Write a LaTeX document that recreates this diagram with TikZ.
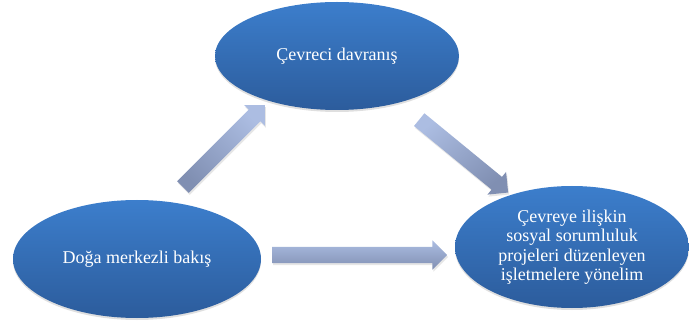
\documentclass[tikz,border=0pt]{standalone}
\usepackage{fontspec}
\setmainfont{Liberation Serif}
\usetikzlibrary{shapes.geometric, shapes.arrows, shadows}
\definecolor{bubtop}{RGB}{60,126,204}
\definecolor{bubbot}{RGB}{44,92,156}
\definecolor{arrtop}{RGB}{172,189,226}
\definecolor{arrbot}{RGB}{128,143,178}
\tikzstyle{bubble} = [ellipse, inner sep = 0pt, top color=bubtop, bottom color=bubbot, text=white, align=center, font=\fontsize{18}{19.5}\selectfont, drop shadow={shadow xshift=0pt, shadow yshift=-2pt, opacity=.25}]
\tikzstyle{barrow} = [single arrow, inner xsep = 0pt, inner ysep = 8pt, single arrow head extend=6.5pt, top color=arrtop, bottom color=arrbot, drop shadow={shadow xshift=1pt, shadow yshift=-2pt, opacity=.2}]

\begin{document}
\begin{tikzpicture}[x=1pt, y=-1pt]
			\useasboundingbox (0,0) rectangle (689,326);
			\node [bubble, minimum width=244pt, minimum height=108pt] (cevreci) at (337, 56) {Çevreci davranış};
			\node [bubble, minimum width=248pt, minimum height=118pt] (doga) at (137, 259) {Doğa merkezli bakış};
			\node [bubble, minimum width=234pt, minimum height=122pt] (yonelim) at (572, 247) {Çevreye ilişkin\\sosyal sorumluluk\\projeleri düzenleyen\\işletmelere yönelim};
			
			\coordinate (a1s) at (180, 190);
			\coordinate (a1e) at (262, 108);
			\coordinate (a2s) at (416, 117);
			\coordinate (a2e) at (505, 190);
			\coordinate (a3s) at (268, 255);
			\coordinate (a3e) at (443, 255);
			
			\path (a1s) -- node [barrow, sloped, minimum height=116pt, shading angle=-45] (doga-cevreci) {} (a1e);
			\path (a2s) -- node [barrow, sloped, minimum height=115pt, shading angle=39] (cevreci-yonelim) {} (a2e);
			\path (a3s) -- node [barrow, sloped, minimum height=175pt] (doga-yonelim) {} (a3e);
		\end{tikzpicture}
\end{document}
